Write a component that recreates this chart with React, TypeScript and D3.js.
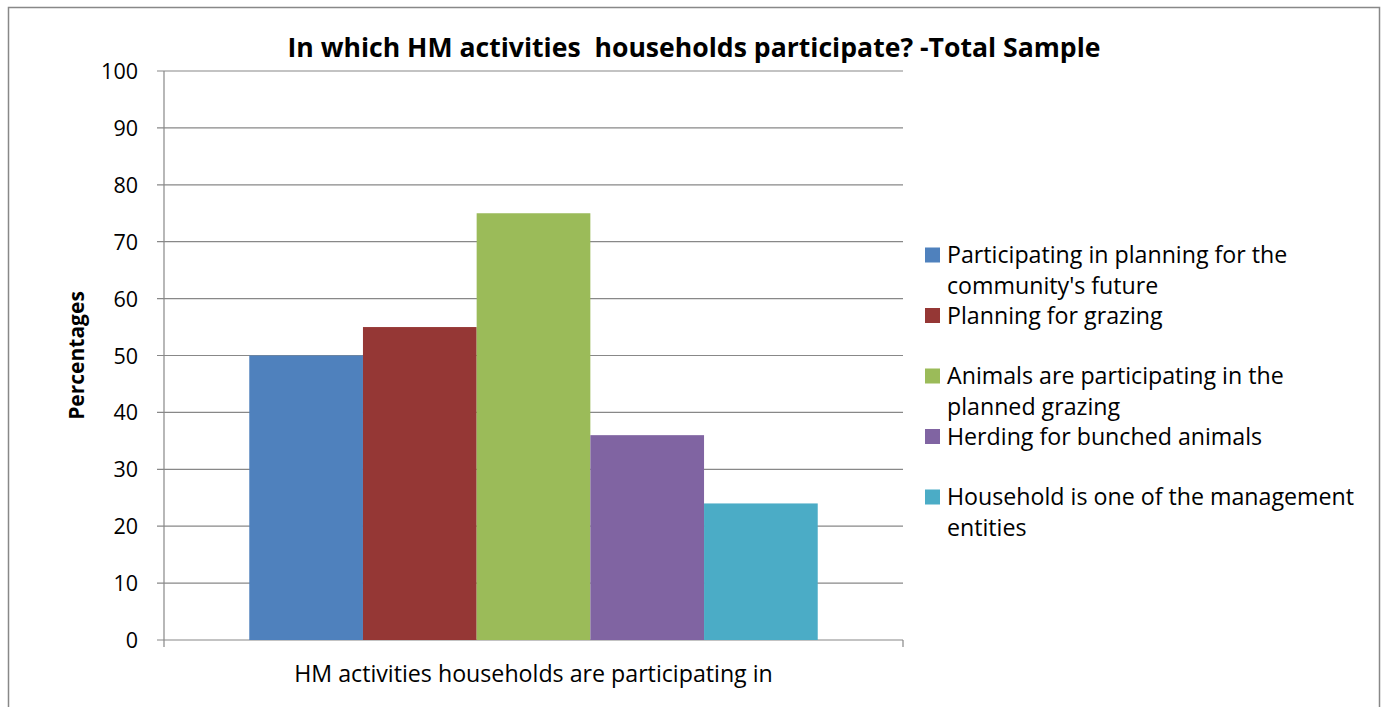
import React from "react";
import * as d3 from "d3";

const categories = ["HM activities households are participating in"];
const seriesNames = [
  ["Participating in planning for the", "community's future"],
  ["Planning for grazing"],
  ["Animals are participating in the", "planned grazing"],
  ["Herding for bunched animals"],
  ["Household is one of the management", "entities"],
];
const seriesValues = [50, 55, 75, 36, 24];
const seriesColors = ["#4F81BD", "#953735", "#9BBB59", "#8064A2", "#4BACC6"];
const yTicks = [0, 10, 20, 30, 40, 50, 60, 70, 80, 90, 100];

const W = 1387;
const H = 707;
const FONT = "'Open Sans', sans-serif";

export default function App() {
  const left = 164, right = 903, top = 71, bottom = 640;
  const y = d3.scaleLinear().domain([0, 100]).range([bottom, top]);
  const x0 = d3.scaleBand().domain(categories).range([left, right]).paddingInner(0).paddingOuter(0);
  const groupW = x0.bandwidth();
  const barW = groupW / (seriesValues.length + 1.5);
  const x1 = d3
    .scaleBand<number>()
    .domain(seriesValues.map((_, i) => i))
    .range([barW * 0.75, groupW - barW * 0.75]);

  return (
    <svg width={W} height={H} style={{ position: "absolute", left: 0, top: 0, background: "#fff" }}>
      <rect x={8.5} y={7.5} width={1371} height={760} fill="none" stroke="#888" strokeWidth={1.5} />
      <text
        x={694}
        y={57}
        textAnchor="middle"
        fontFamily={FONT}
        fontWeight="bold"
        fontSize={26.6}
        fill="#000"
        style={{ whiteSpace: "pre" }}
      >
        {"In which HM activities  households participate? -Total Sample"}
      </text>
      {yTicks.map((t) => (
        <g key={t}>
          <line x1={157} x2={right} y1={y(t)} y2={y(t)} stroke="#888" strokeWidth={1.2} />
          <text x={138} y={y(t) + 8} textAnchor="end" fontFamily={FONT} fontSize={21.5} fill="#000">
            {t}
          </text>
        </g>
      ))}
      <line x1={left} x2={left} y1={top} y2={bottom + 7} stroke="#888" strokeWidth={1.2} />
      <line x1={right} x2={right} y1={bottom} y2={bottom + 7} stroke="#888" strokeWidth={1.2} />
      {categories.map((c) => (
        <g key={c} transform={`translate(${x0(c)},0)`}>
          {seriesValues.map((v, i) => (
            <rect
              key={i}
              x={x1(i)}
              y={y(v)}
              width={x1.bandwidth()}
              height={bottom - y(v)}
              fill={seriesColors[i]}
            />
          ))}
          <text
            x={groupW / 2}
            y={682}
            textAnchor="middle"
            fontFamily={FONT}
            fontSize={23.2}
            fill="#000"
          >
            {c}
          </text>
        </g>
      ))}
      <text
        transform={`translate(84,${(top + bottom) / 2}) rotate(-90)`}
        textAnchor="middle"
        fontFamily={FONT}
        fontWeight="bold"
        fontSize={21}
        fill="#000"
      >
        Percentages
      </text>
      {seriesNames.map((lines, i) => {
        const sy = 255 + i * 60.5;
        return (
          <g key={i}>
            <rect x={925} y={sy - 7.5} width={15} height={15} fill={seriesColors[i]} />
            {lines.map((ln, j) => (
              <text key={j} x={947} y={sy + 8 + j * 31} fontFamily={FONT} fontSize={23.2} fill="#000">
                {ln}
              </text>
            ))}
          </g>
        );
      })}
    </svg>
  );
}
